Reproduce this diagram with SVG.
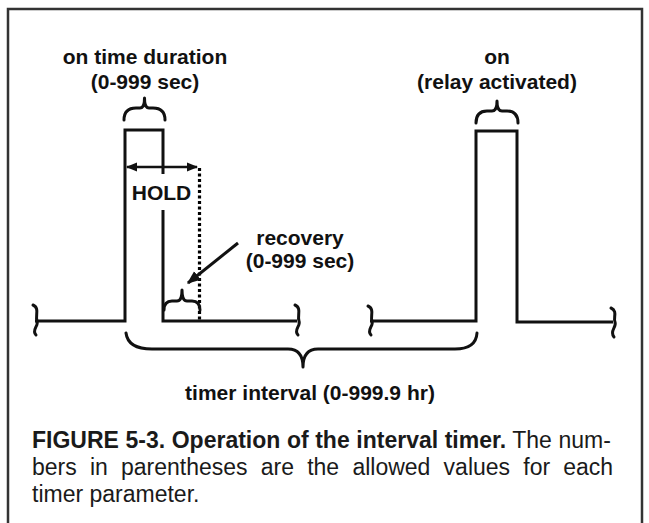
<svg xmlns="http://www.w3.org/2000/svg" width="649" height="523" viewBox="0 0 649 523">
<style>
.sig{fill:none;stroke:#111;stroke-width:3;stroke-linejoin:miter;stroke-linecap:butt}
.br{fill:none;stroke:#111;stroke-width:3;stroke-linecap:round;stroke-linejoin:round}
.lb{font-family:"Liberation Sans",Arial,sans-serif;font-weight:bold;font-size:21px;fill:#111;text-anchor:middle}
.cap{font-family:"Liberation Sans",Arial,sans-serif;font-size:23px;fill:#1a1a1a}
.capb{font-weight:bold}
</style>
<defs>
<marker id="ah" viewBox="0 0 10 10" refX="9" refY="5" markerWidth="4.5" markerHeight="4.5" orient="auto-start-reverse" markerUnits="strokeWidth">
<path d="M0,1 L10,5 L0,9 Z" fill="#111"/>
</marker>
</defs>
<rect width="649" height="523" fill="#fff"/>
<path d="M8,530 L8,9 L642,9 L642,530" fill="none" stroke="#333" stroke-width="2.5"/>

<g id="signal1">
<path class="sig" d="M35,321 L125,321 L125,130 L163,130 L163,174"/>
<path class="sig" d="M163,210 L163,321 L297,321"/>
<path class="br" d="M33,305 C40,308 35,316 37,321 C39,326 31,330 36,335"/>
<path class="br" d="M295,305 C302,308 297,316 299,321 C301,326 293,330 298,335"/>
</g>
<g id="signal2">
<path class="sig" d="M370,321 L476,321 L476,131 L517,131 L517,322 L613,322"/>
<path class="br" d="M368,306 C375,309 370,317 372,321 C374,326 366,330 371,335"/>
<path class="br" d="M611,308 C618,311 613,318 615,322 C617,327 609,331 614,337"/>
</g>

<g id="hold">
<line x1="127" y1="167" x2="197" y2="167" stroke="#111" stroke-width="2.5" marker-start="url(#ah)" marker-end="url(#ah)"/>
<line x1="199.5" y1="168" x2="199.5" y2="321" stroke="#000" stroke-width="3.2" stroke-dasharray="3 2.5"/>
<text class="lb" x="161.5" y="200">HOLD</text>
</g>

<g id="braces">
<path class="br" d="M124,120 Q124,108 136,108 L140,108 Q144.5,108 144.5,98 Q144.5,108 149,108 L153,108 Q165,108 165,120"/>
<path class="br" d="M476,123 Q476,111 487,111 L492,111 Q497,111 497,101 Q497,111 502,111 L507,111 Q518,111 518,123"/>
<path class="br" d="M164,310 Q164,301 172,301 L177,301 Q182,301 182,290 Q182,301 187,301 L192,301 Q200,301 200,310"/>
<path class="br" d="M126,333 Q128,349 152,349 L288,349 Q303,349 303,367 Q303,349 318,349 L455,349 Q476,349 477,333"/>
</g>

<g id="recovery">
<line x1="238" y1="243" x2="188" y2="283" stroke="#111" stroke-width="3" marker-end="url(#ah)"/>
<text class="lb" x="300" y="245">recovery</text>
<text class="lb" x="300" y="268">(0-999 sec)</text>
</g>

<g id="labels">
<text class="lb" x="145" y="64">on time duration</text>
<text class="lb" x="145" y="89">(0-999 sec)</text>
<text class="lb" x="497" y="64">on</text>
<text class="lb" x="497" y="89">(relay activated)</text>
<text class="lb" x="310" y="400">timer interval (0-999.9 hr)</text>
</g>

<g id="caption" class="cap">
<text x="32" y="448" word-spacing="0.2"><tspan class="capb">FIGURE 5-3. Operation of the interval timer.</tspan> The num-</text>
<text y="475"><tspan x="32">bers</tspan><tspan x="89.9">in</tspan><tspan x="121">parentheses</tspan><tspan x="260.8">are</tspan><tspan x="307.2">the</tspan><tspan x="352.4">allowed</tspan><tspan x="443.6">values</tspan><tspan x="523.3">for</tspan><tspan x="613" text-anchor="end">each</tspan></text>
<text x="32" y="502">timer parameter.</text>
</g>
</svg>
